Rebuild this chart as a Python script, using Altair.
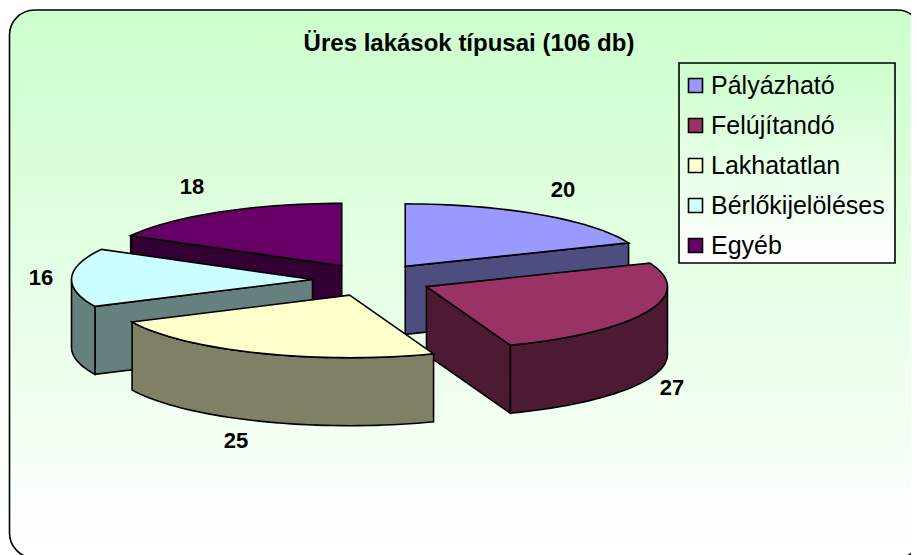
import math
import altair as alt

TITLE = "Üres lakások típusai (106 db)"
names = ["Pályázható", "Felújítandó", "Lakhatatlan", "Bérlőkijelöléses", "Egyéb"]
values = [20, 27, 25, 16, 18]
top_colors = ["#9999FF", "#993366", "#FFFFCC", "#CCFFFF", "#660066"]
wall_colors = ["#4D4D80", "#4D1A33", "#808066", "#668080", "#330033"]
draw_order = [4, 0, 3, 1, 2]

# layout of the projected pie (pixels in the plot area)
W, H = 903, 547
CX, CY = 364.0, 272.0
RX, RY = 241.0, 62.5
DEPTH = 68.0
EXPLODE_X, EXPLODE_Y = 59.5, 16.4

total = sum(values)
edges = [0.0]
for v in values:
    edges.append(edges[-1] + 360.0 * v / total)


def pt(apex, deg, drop=0.0):
    r = math.radians(deg)
    return [apex[0] + RX * math.sin(r), apex[1] - RY * math.cos(r) + drop]


def arc(apex, a, b, drop=0.0):
    n = max(2, int(abs(b - a) / 2) + 1)
    return [pt(apex, a + (b - a) * i / (n - 1), drop) for i in range(n)]


def feature(ring, face):
    ring = [list(p) for p in ring]
    ring.append(list(ring[0]))
    return {"type": "Feature", "properties": {"face": face},
            "geometry": {"type": "Polygon", "coordinates": [ring]}}


features = []
for i in draw_order:
    s, e = edges[i], edges[i + 1]
    m = math.radians((s + e) / 2)
    apex = (CX + EXPLODE_X * math.sin(m), CY - EXPLODE_Y * math.cos(m))
    side = names[i] + " oldal"
    low = (apex[0], apex[1] + DEPTH)
    if math.sin(math.radians(e)) > 1e-6:
        features.append(feature([apex, pt(apex, e), pt(apex, e, DEPTH), low], side))
    if math.sin(math.radians(s)) < -1e-6:
        features.append(feature([apex, pt(apex, s), pt(apex, s, DEPTH), low], side))
    a, b = max(s, 90.0), min(e, 270.0)
    if b > a:
        features.append(feature(arc(apex, a, b) + arc(apex, b, a, DEPTH), side))
    features.append(feature([apex] + arc(apex, s, e), names[i]))

domain = names + [n + " oldal" for n in names]
color_range = top_colors + wall_colors

panel = alt.Chart(alt.Data(values=[{"p": 1}])).mark_rect(
    cornerRadius=25,
    stroke="black",
    strokeWidth=1.6,
    fill=alt.Gradient(
        gradient="linear", x1=0, y1=0, x2=0, y2=1,
        stops=[alt.GradientStop(offset=0, color="#CCFFCC"),
               alt.GradientStop(offset=1, color="#FFFFFF")],
    ),
).encode(x=alt.value(1.5), x2=alt.value(914), y=alt.value(2), y2=alt.value(550))

legend_box = alt.Chart(alt.Data(values=[{"p": 1}])).mark_rect(
    stroke="black",
    strokeWidth=1.6,
    fill=alt.Gradient(
        gradient="linear", x1=0, y1=0, x2=0, y2=1,
        stops=[alt.GradientStop(offset=0, color="#CCFFCC"),
               alt.GradientStop(offset=1, color="#FFFFFF")],
    ),
).encode(x=alt.value(671), x2=alt.value(887), y=alt.value(55), y2=alt.value(255))

pie = alt.Chart(alt.Data(values=features)).mark_geoshape(
    stroke="black", strokeWidth=1.6, strokeJoin="miter"
).encode(
    color=alt.Color(
        "properties.face:N",
        scale=alt.Scale(domain=domain, range=color_range),
        legend=alt.Legend(
            values=names, title=None, orient="none", legendX=665, legendY=55,
            symbolType="square", symbolSize=196, symbolStrokeWidth=1.6,
            symbolStrokeColor="black", symbolOpacity=1,
            labelFont="Liberation Sans", labelFontSize=25, labelColor="black",
            labelOffset=3, rowPadding=14, padding=10, labelLimit=300,
        ),
    )
).project(type="identity", scale=1, translate=[0, 0])

lab_x = [555, 664, 228, 33, 184]
lab_y = [182, 380, 433, 270, 179]
labels = alt.Chart(alt.Data(values=[
    {"v": str(v), "px": x, "py": y} for v, x, y in zip(values, lab_x, lab_y)
])).mark_text(
    font="Liberation Sans", fontWeight="bold", fontSize=22, color="black",
    align="center", baseline="middle",
).encode(
    x=alt.X("px:Q", scale=None), y=alt.Y("py:Q", scale=None), text="v:N"
)

title = alt.Chart(alt.Data(values=[{"t": TITLE}])).mark_text(
    font="Liberation Sans", fontWeight="bold", fontSize=24, color="black",
    align="center", baseline="middle",
).encode(x=alt.value(461), y=alt.value(36), text="t:N")

chart = alt.layer(panel, legend_box, pie, labels, title).properties(
    width=W, height=H, padding=0,
    autosize=alt.AutoSizeParams(type="none"),
).configure_view(stroke=None)

chart.save("out.html", embed_options={"renderer": "svg", "actions": False})
